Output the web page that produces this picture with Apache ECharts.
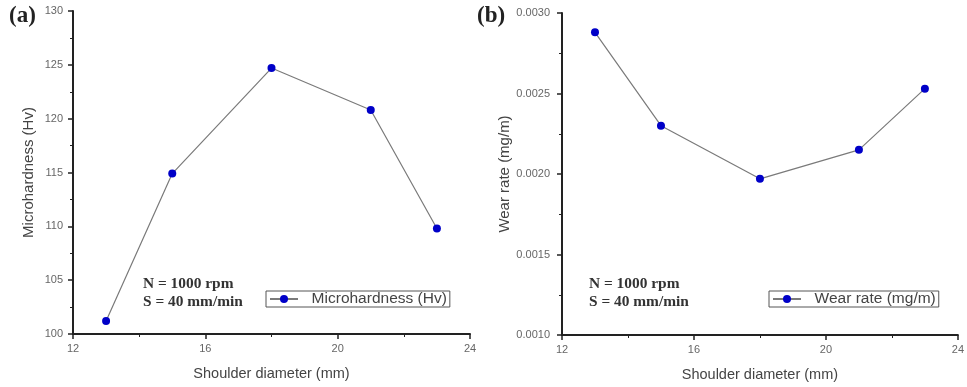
<!DOCTYPE html>
<html><head><meta charset="utf-8">
<script src="https://cdn.jsdelivr.net/npm/echarts@6/dist/echarts.min.js"></script>
<style>html,body{margin:0;padding:0;background:#fff}#c{width:967px;height:387px}</style>
</head><body><div id="c"></div>
<script>
const shoulderDiameter = [13, 15, 18, 21, 23];
const microhardness = [101.2, 114.9, 124.7, 120.8, 109.8];
const wearRate = [0.00288, 0.00230, 0.00197, 0.00215, 0.00253];
const xTicks = {min: 12, max: 24, interval: 4};
const yTicksA = {min: 100, max: 130, interval: 5};
const yTicksB = {min: 0.0010, max: 0.0030, interval: 0.0005};

const chart = echarts.init(document.getElementById('c'), null, {renderer: 'canvas'});
const FONT = '"Liberation Sans", Arial, sans-serif';
const SERIF = '"Liberation Serif", "Times New Roman", serif';

function xAxis(idx) {
  return {
    gridIndex: idx, type: 'value', min: xTicks.min, max: xTicks.max, interval: xTicks.interval,
    name: 'Shoulder diameter (mm)', nameLocation: 'middle', nameGap: 32,
    nameTextStyle: {fontFamily: FONT, fontSize: 14.5, color: '#444'},
    axisLine: {show: true, onZero: false, lineStyle: {color: '#222', width: 2}},
    axisTick: {show: true, inside: false, length: 5, lineStyle: {color: '#222', width: 1.5}},
    minorTick: {show: true, splitNumber: 2, length: 3, lineStyle: {color: '#222', width: 1}},
    axisLabel: {fontFamily: FONT, fontSize: 11, color: '#666', margin: 9},
    splitLine: {show: false}
  };
}
function yAxis(idx, t, name, gap, margin, fmt) {
  return {
    gridIndex: idx, type: 'value', min: t.min, max: t.max, interval: t.interval,
    name: name, nameLocation: 'middle', nameGap: gap,
    nameTextStyle: {fontFamily: FONT, fontSize: 15, color: '#444'},
    axisLine: {show: true, onZero: false, lineStyle: {color: '#222', width: 2}},
    axisTick: {show: true, inside: false, length: 5, lineStyle: {color: '#222', width: 1.5}},
    minorTick: {show: true, splitNumber: 2, length: 3, lineStyle: {color: '#222', width: 1}},
    axisLabel: {fontFamily: FONT, fontSize: 11, color: '#666', margin: margin, formatter: fmt},
    splitLine: {show: false}
  };
}
const legendCommon = {
  orient: 'horizontal', borderColor: '#555', borderWidth: 1, padding: [0, 3],
  itemWidth: 28, itemHeight: 10, itemGap: 4,
  formatter: n => '  ' + n,
  textStyle: {fontFamily: FONT, fontSize: 15.5, color: '#444', lineHeight: 15}
};

chart.setOption({
  animation: false,
  backgroundColor: '#fff',
  grid: [
    {left: 73, right: 497, top: 11, bottom: 53},
    {left: 562, right: 5, top: 13, bottom: 52}
  ],
  xAxis: [xAxis(0), xAxis(1)],
  yAxis: [
    yAxis(0, yTicksA, 'Microhardness (Hv)', 37, 10, v => String(v)),
    yAxis(1, yTicksB, 'Wear rate (mg/m)', 49, 12, v => v.toFixed(4))
  ],
  legend: [
    Object.assign({}, legendCommon, {data: ['Microhardness (Hv)'], left: 266, top: 291}),
    Object.assign({}, legendCommon, {data: ['Wear rate (mg/m)'], left: 769, top: 291})
  ],
  series: [
    {
      name: 'Microhardness (Hv)', type: 'line', xAxisIndex: 0, yAxisIndex: 0,
      data: shoulderDiameter.map((x, i) => [x, microhardness[i]]),
      symbol: 'circle', symbolSize: 8,
      lineStyle: {color: '#7a7a7a', width: 1.2},
      itemStyle: {color: '#0000c8', borderWidth: 0}
    },
    {
      name: 'Wear rate (mg/m)', type: 'line', xAxisIndex: 1, yAxisIndex: 1,
      data: shoulderDiameter.map((x, i) => [x, wearRate[i]]),
      symbol: 'circle', symbolSize: 8,
      lineStyle: {color: '#7a7a7a', width: 1.2},
      itemStyle: {color: '#0000c8', borderWidth: 0}
    }
  ],
  graphic: [
    {type: 'text', left: 9, top: 5, style: {text: '(a)', font: 'bold 23px ' + SERIF, fill: '#222'}},
    {type: 'text', left: 477, top: 5, style: {text: '(b)', font: 'bold 23px ' + SERIF, fill: '#222'}},
    {type: 'text', x: 143, y: 275, scaleX: 1.1, style: {text: 'N = 1000 rpm\nS = 40 mm/min', font: 'bold 14px ' + SERIF, fill: '#333', lineHeight: 18}},
    {type: 'text', x: 589, y: 275, scaleX: 1.1, style: {text: 'N = 1000 rpm\nS = 40 mm/min', font: 'bold 14px ' + SERIF, fill: '#333', lineHeight: 18}}
  ]
});
</script></body></html>
